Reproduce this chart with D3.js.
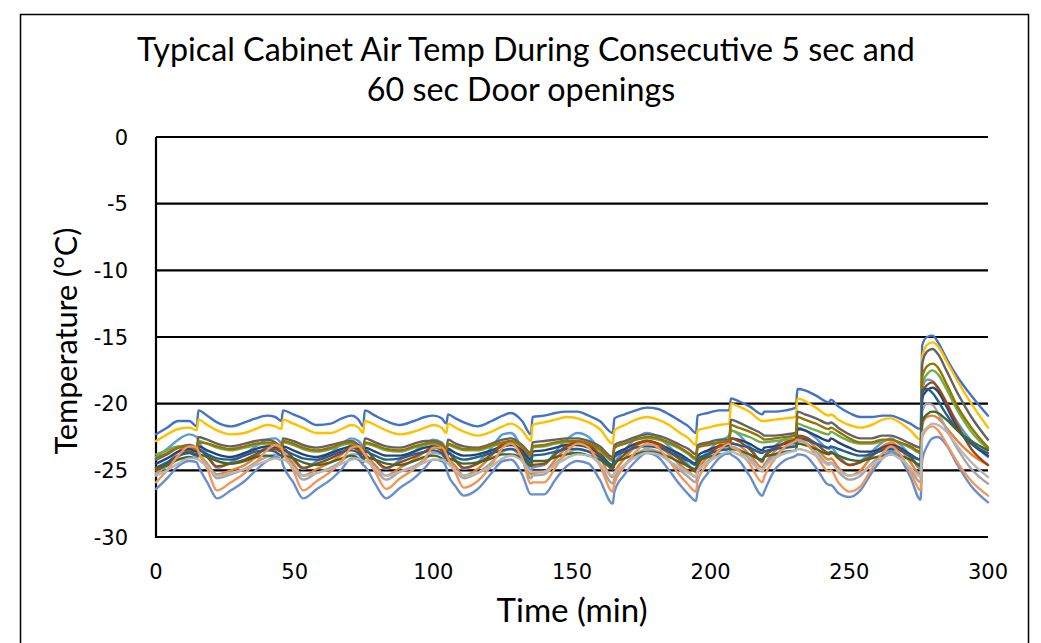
<!DOCTYPE html>
<html>
<head>
<meta charset="utf-8">
<script src="https://cdn.jsdelivr.net/npm/d3@7"></script>
<style>
  body { margin: 0; background: #fff; }
  svg  { display: block; }
</style>
</head>
<body>
<svg id="chart" width="1041" height="643"></svg>
<script>
// ═══════════════════════════════════════════
//  Cabinet air temperature, 5 s / 60 s door openings
//  15 probe traces, Excel default palette order
// ═══════════════════════════════════════════

const titleLines = ['Typical Cabinet Air Temp During Consecutive 5 sec and', '60 sec Door openings'];
const xTitle = 'Time (min)';
const yTitle = 'Temperature (°C)';
const xTicks = [0, 50, 100, 150, 200, 250, 300];
const yTicks = [0, -5, -10, -15, -20, -25, -30];

// sample times (min); pairs like 14.7 / 15.3 straddle a door opening
const timeMin = [
  0, 4, 8, 12, 14.7,
  15.3, 18.5, 22, 27, 32, 36, 40, 43, 45.2,
  45.8, 49.5, 53, 58, 63, 67, 70.5, 73, 74.7,
  75.3, 79, 83, 88, 93, 97, 100, 103, 104.7,
  105.3, 108, 111, 116, 121, 125, 128, 132, 135.2,
  135.8, 140, 144, 148, 152, 156, 160, 164.7,
  165.3, 169, 173, 177, 181, 185, 189, 192, 194.7,
  195.3, 199, 203, 206.7,  207.3, 210, 214, 218.7,
  219.3, 223, 227, 230.7,  231.3, 234, 238, 242.7,
  243.3, 246, 250, 254, 258, 262, 265, 268, 272, 275.7,
  276.3, 278, 280, 282, 285, 289, 294, 300
];

// ── Series (°C) ───────────────────────────
const blue = [
  -22.3, -21.8, -21.3, -21.3, -21.7,
  -20.5, -20.9, -21.4, -21.7, -21.4, -21.1, -20.9, -21.0, -21.3,
  -20.5, -20.8, -21.1, -21.6, -21.5, -21.1, -20.9, -21.2, -21.7,
  -20.5, -20.9, -21.3, -21.6, -21.3, -21.0, -20.9, -21.1, -21.5,
  -20.8, -21.1, -21.4, -21.7, -21.3, -20.9, -20.7, -21.3, -22.3,
  -21.0, -20.9, -20.7, -20.6, -20.6, -20.9, -21.3, -22.2,
  -21.1, -20.8, -20.5, -20.3, -20.4, -20.8, -21.3, -21.7, -22.2,
  -20.9, -20.7, -20.5, -20.5,  -19.6, -19.8, -20.2, -20.8,
  -20.6, -20.6, -20.5, -20.3,  -18.9, -19.0, -19.4, -19.9,
  -19.7, -20.2, -20.7, -21.0, -21.0, -20.9, -20.9, -21.1, -21.5, -21.9,
  -15.6, -15.0, -14.9, -15.4, -16.6, -18.0, -19.4, -20.9
];
const orange = [
  -25.3, -24.5, -23.6, -23.1, -23.3,
  -23.6, -24.5, -25.3, -25.0, -24.6, -24.0, -23.2, -23.0, -23.2,
  -23.5, -24.5, -25.4, -24.9, -24.4, -23.8, -23.1, -23.1, -23.5,
  -23.7, -24.6, -25.4, -24.8, -24.2, -23.6, -23.1, -23.2, -23.7,
  -24.0, -24.7, -25.4, -24.9, -23.9, -23.0, -22.9, -23.8, -25.3,
  -25.2, -25.1, -24.2, -23.3, -22.8, -23.0, -24.0, -25.5,
  -25.2, -24.1, -23.2, -22.8, -23.1, -23.8, -24.6, -25.1, -25.5,
  -25.0, -24.0, -23.1, -22.7,  -22.9, -23.1, -23.8, -24.8,
  -24.6, -23.6, -22.9, -22.6,  -22.5, -22.6, -23.3, -24.2,
  -24.1, -24.8, -25.4, -25.0, -24.0, -23.2, -22.9, -23.3, -24.4, -25.3,
  -21.6, -21.0, -20.9, -21.1, -21.8, -22.8, -23.8, -24.6
];
const gray = [
  -25.2, -24.7, -24.0, -23.5, -23.6,
  -23.8, -24.6, -25.6, -25.3, -24.9, -24.4, -24.0, -23.8, -23.9,
  -23.9, -24.8, -25.7, -25.2, -24.8, -24.3, -23.8, -23.8, -24.1,
  -24.0, -24.9, -25.7, -25.1, -24.7, -24.2, -23.7, -23.8, -24.2,
  -24.3, -25.0, -25.6, -25.2, -24.4, -23.6, -23.4, -24.2, -25.6,
  -25.4, -25.3, -24.5, -23.8, -23.4, -23.6, -24.5, -26.0,
  -25.6, -24.6, -23.8, -23.4, -23.6, -24.3, -25.0, -25.5, -25.9,
  -25.2, -24.3, -23.6, -23.2,  -23.2, -23.4, -24.1, -25.1,
  -24.8, -23.9, -23.3, -23.0,  -22.8, -22.9, -23.6, -24.5,
  -24.4, -25.1, -25.7, -25.4, -24.5, -23.8, -23.5, -23.9, -24.9, -25.9,
  -20.6, -20.0, -20.1, -20.7, -21.9, -23.4, -24.9, -26.0
];
const gold = [
  -22.8, -22.3, -21.9, -21.8, -22.0,
  -21.2, -21.6, -22.0, -22.3, -22.2, -21.9, -21.6, -21.7, -21.9,
  -21.2, -21.5, -21.8, -22.2, -22.2, -21.9, -21.6, -21.8, -22.2,
  -21.3, -21.6, -22.0, -22.3, -22.1, -21.8, -21.6, -21.8, -22.2,
  -21.5, -21.8, -22.1, -22.4, -22.1, -21.7, -21.5, -22.0, -22.8,
  -21.6, -21.4, -21.2, -21.0, -21.1, -21.4, -21.9, -23.0,
  -22.0, -21.6, -21.2, -21.0, -21.2, -21.6, -22.2, -22.6, -23.1,
  -22.0, -21.8, -21.6, -21.5,  -20.0, -20.2, -20.6, -21.3,
  -21.3, -21.2, -21.1, -21.0,  -19.6, -19.8, -20.3, -20.9,
  -20.8, -21.2, -21.6, -21.8, -21.6, -21.2, -21.1, -21.4, -22.0, -22.7,
  -16.5, -15.6, -15.4, -15.7, -16.8, -18.3, -20.0, -21.8
];
const lightBlue = [
  -24.0, -23.4, -22.7, -22.3, -22.5,
  -22.8, -23.8, -24.8, -24.4, -23.8, -23.2, -22.7, -22.6, -23.0,
  -23.2, -24.2, -24.9, -24.3, -23.7, -23.0, -22.6, -22.8, -23.2,
  -23.3, -24.2, -24.9, -24.2, -23.6, -23.0, -22.7, -22.9, -23.4,
  -23.5, -24.2, -24.9, -24.4, -23.3, -22.3, -22.2, -23.4, -25.0,
  -24.8, -24.6, -23.6, -22.7, -22.2, -22.5, -23.5, -24.9,
  -24.5, -23.5, -22.6, -22.2, -22.5, -23.2, -24.0, -24.6, -25.1,
  -24.6, -23.6, -22.8, -22.4,  -22.0, -22.3, -23.2, -24.4,
  -24.0, -23.2, -22.6, -22.3,  -21.8, -22.0, -22.6, -23.4,
  -23.3, -23.9, -24.6, -24.3, -23.6, -22.9, -22.6, -23.0, -23.9, -24.9,
  -18.9, -18.2, -18.3, -18.9, -20.0, -21.4, -22.8, -24.0
];
const green = [
  -23.8, -23.5, -23.2, -23.2, -23.4,
  -22.8, -23.0, -23.3, -23.5, -23.3, -23.1, -23.0, -23.1, -23.4,
  -22.9, -23.1, -23.4, -23.6, -23.4, -23.1, -23.0, -23.3, -23.7,
  -23.0, -23.2, -23.5, -23.6, -23.3, -23.1, -23.0, -23.2, -23.6,
  -23.1, -23.3, -23.5, -23.5, -23.2, -23.0, -22.9, -23.3, -24.0,
  -23.3, -23.2, -23.0, -22.9, -22.9, -23.1, -23.5, -24.3,
  -23.3, -23.0, -22.7, -22.6, -22.7, -23.0, -23.4, -23.8, -24.2,
  -23.2, -23.0, -22.9, -22.8,  -22.0, -22.2, -22.5, -22.9,
  -22.9, -22.8, -22.7, -22.6,  -21.5, -21.7, -22.0, -22.3,
  -22.1, -22.4, -22.8, -23.0, -23.0, -22.8, -22.7, -22.9, -23.3, -23.7,
  -18.5, -17.8, -17.5, -17.8, -18.9, -20.5, -22.1, -23.4
];
const darkBlue = [
  -24.5, -24.1, -23.6, -23.4, -23.6,
  -23.2, -23.5, -23.8, -24.0, -23.7, -23.4, -23.2, -23.3, -23.6,
  -23.2, -23.5, -23.8, -24.0, -23.7, -23.4, -23.2, -23.4, -23.8,
  -23.3, -23.6, -23.9, -23.9, -23.6, -23.3, -23.2, -23.4, -23.8,
  -23.4, -23.7, -23.9, -23.8, -23.5, -23.2, -23.1, -23.5, -24.2,
  -23.6, -23.5, -23.3, -23.1, -23.1, -23.3, -23.8, -24.6,
  -23.8, -23.4, -23.0, -22.8, -23.0, -23.4, -23.8, -24.2, -24.5,
  -23.9, -23.5, -23.2, -23.1,  -22.6, -22.7, -23.0, -23.5,
  -23.3, -23.2, -23.0, -22.9,  -21.9, -22.0, -22.4, -22.8,
  -22.6, -22.9, -23.3, -23.6, -23.6, -23.3, -23.1, -23.3, -23.8, -24.2,
  -19.6, -19.0, -18.8, -19.1, -20.2, -21.8, -23.0, -23.9
];
const darkOrange = [
  -25.0, -24.6, -23.9, -23.6, -23.8,
  -23.4, -24.0, -24.7, -24.5, -24.2, -23.8, -23.4, -23.4, -23.6,
  -23.4, -24.1, -24.8, -24.5, -24.1, -23.7, -23.3, -23.5, -23.8,
  -23.5, -24.2, -24.8, -24.4, -24.0, -23.6, -23.3, -23.5, -23.9,
  -23.7, -24.3, -24.8, -24.5, -23.8, -23.1, -23.0, -23.7, -24.7,
  -24.6, -24.5, -23.8, -23.2, -22.9, -23.1, -23.8, -24.9,
  -24.6, -23.8, -23.1, -22.8, -23.0, -23.6, -24.2, -24.7, -25.1,
  -24.6, -23.8, -23.2, -22.9,  -22.6, -22.8, -23.4, -24.3,
  -24.0, -23.4, -22.9, -22.7,  -22.4, -22.5, -23.0, -23.7,
  -23.6, -24.1, -24.6, -24.4, -23.9, -23.4, -23.2, -23.4, -24.0, -24.7,
  -19.2, -18.6, -18.4, -18.8, -19.9, -21.6, -23.4, -24.6
];
const darkGray = [
  -24.2, -23.8, -23.3, -23.1, -23.3,
  -22.5, -22.7, -23.0, -23.2, -23.0, -22.8, -22.7, -22.9, -23.3,
  -22.6, -22.8, -23.1, -23.3, -23.1, -22.9, -22.8, -23.1, -23.5,
  -22.6, -22.9, -23.2, -23.3, -23.0, -22.8, -22.8, -23.0, -23.4,
  -22.7, -23.0, -23.2, -23.3, -23.0, -22.7, -22.6, -23.1, -23.7,
  -22.9, -22.8, -22.7, -22.6, -22.6, -22.8, -23.2, -24.0,
  -23.1, -22.8, -22.5, -22.3, -22.4, -22.7, -23.1, -23.4, -23.8,
  -23.1, -22.9, -22.7, -22.7,  -21.2, -21.4, -21.8, -22.3,
  -22.4, -22.4, -22.3, -22.2,  -20.6, -20.8, -21.1, -21.5,
  -21.4, -21.8, -22.3, -22.6, -22.6, -22.4, -22.4, -22.6, -23.0, -23.3,
  -17.0, -16.1, -15.9, -16.3, -17.5, -19.2, -21.0, -22.7
];
const darkGold = [
  -24.1, -23.7, -23.3, -23.2, -23.4,
  -22.9, -23.0, -23.2, -23.4, -23.2, -23.0, -22.9, -23.0, -23.4,
  -22.8, -23.0, -23.3, -23.5, -23.3, -23.0, -22.9, -23.2, -23.6,
  -22.9, -23.1, -23.4, -23.5, -23.2, -23.0, -22.9, -23.1, -23.5,
  -23.0, -23.2, -23.4, -23.4, -23.1, -22.9, -22.8, -23.2, -23.9,
  -23.2, -23.1, -22.9, -22.8, -22.8, -23.0, -23.4, -24.2,
  -23.3, -23.0, -22.7, -22.5, -22.6, -22.9, -23.3, -23.7, -24.1,
  -23.3, -23.1, -22.9, -22.8,  -21.6, -21.8, -22.1, -22.6,
  -22.7, -22.6, -22.5, -22.4,  -21.0, -21.2, -21.5, -21.9,
  -21.8, -22.1, -22.6, -22.9, -22.9, -22.7, -22.7, -22.9, -23.2, -23.6,
  -18.0, -17.2, -17.0, -17.3, -18.5, -20.2, -21.8, -23.3
];
const steelBlue = [
  -24.8, -24.4, -23.9, -23.7, -23.9,
  -23.5, -23.8, -24.1, -24.2, -23.9, -23.6, -23.5, -23.6, -23.9,
  -23.5, -23.8, -24.1, -24.2, -23.9, -23.6, -23.5, -23.7, -24.1,
  -23.6, -23.9, -24.2, -24.1, -23.8, -23.6, -23.5, -23.7, -24.1,
  -23.7, -24.0, -24.2, -24.0, -23.7, -23.5, -23.4, -23.8, -24.4,
  -23.9, -23.8, -23.6, -23.4, -23.4, -23.6, -24.0, -24.7,
  -24.0, -23.6, -23.3, -23.2, -23.3, -23.6, -24.0, -24.3, -24.6,
  -24.1, -23.8, -23.5, -23.4,  -23.0, -23.1, -23.3, -23.7,
  -23.6, -23.4, -23.3, -23.2,  -22.6, -22.7, -23.0, -23.3,
  -23.2, -23.4, -23.7, -23.9, -23.8, -23.5, -23.4, -23.5, -23.9, -24.2,
  -19.0, -18.9, -19.2, -19.8, -20.8, -22.0, -23.0, -23.7
];
const darkGreen = [
  -24.8, -24.6, -24.2, -24.0, -24.1,
  -23.8, -24.0, -24.3, -24.5, -24.3, -24.0, -23.9, -24.0, -24.2,
  -23.9, -24.1, -24.4, -24.6, -24.4, -24.1, -23.9, -24.1, -24.4,
  -24.0, -24.2, -24.5, -24.6, -24.3, -24.0, -23.9, -24.1, -24.4,
  -24.1, -24.3, -24.5, -24.4, -24.1, -23.8, -23.8, -24.1, -24.6,
  -24.3, -24.3, -24.0, -23.8, -23.7, -23.9, -24.2, -24.8,
  -24.4, -24.1, -23.8, -23.6, -23.7, -24.0, -24.4, -24.7, -24.9,
  -24.3, -24.0, -23.8, -23.7,  -23.4, -23.5, -23.8, -24.2,
  -24.0, -23.8, -23.6, -23.5,  -23.0, -23.1, -23.4, -23.8,
  -23.7, -23.9, -24.2, -24.3, -24.1, -23.9, -23.8, -23.9, -24.2, -24.6,
  -21.3, -20.8, -20.6, -20.7, -21.2, -22.0, -22.8, -23.5
];
const paleBlue = [
  -26.4, -25.6, -24.7, -24.3, -24.4,
  -24.7, -25.9, -27.1, -26.5, -25.8, -25.0, -24.3, -24.0, -24.2,
  -24.6, -25.9, -27.1, -26.4, -25.7, -24.9, -24.1, -24.2, -24.6,
  -24.7, -26.0, -27.1, -26.3, -25.6, -24.8, -24.2, -24.3, -24.8,
  -25.3, -26.2, -26.9, -26.4, -25.2, -24.3, -24.2, -25.3, -26.8,
  -26.8, -26.8, -25.7, -24.7, -24.3, -24.5, -25.7, -27.5,
  -26.6, -25.3, -24.3, -23.7, -24.0, -25.0, -26.1, -26.8, -27.3,
  -26.6, -25.2, -24.1, -23.7,  -23.8, -24.2, -25.4, -26.9,
  -26.6, -25.0, -24.2, -23.9,  -23.8, -23.9, -24.8, -26.1,
  -26.1, -26.7, -27.0, -26.5, -25.2, -24.1, -23.6, -24.0, -25.5, -27.2,
  -24.2, -23.2, -22.6, -22.5, -23.1, -24.6, -26.2, -27.4
];
const paleOrange = [
  -25.9, -25.0, -23.9, -23.2, -23.3,
  -23.6, -24.9, -26.5, -25.9, -25.2, -24.4, -23.5, -23.1, -23.3,
  -23.6, -25.0, -26.5, -25.8, -25.1, -24.3, -23.3, -23.2, -23.6,
  -23.8, -25.1, -26.4, -25.6, -24.9, -24.1, -23.3, -23.3, -23.8,
  -24.1, -25.2, -26.3, -25.8, -24.6, -23.3, -23.0, -24.1, -26.0,
  -25.9, -25.9, -24.8, -23.6, -23.0, -23.3, -24.6, -26.6,
  -26.0, -24.7, -23.6, -23.0, -23.3, -24.3, -25.4, -26.1, -26.6,
  -25.8, -24.5, -23.5, -23.0,  -23.2, -23.5, -24.5, -25.9,
  -25.5, -24.2, -23.2, -22.8,  -22.7, -22.9, -23.9, -25.1,
  -25.0, -25.9, -26.6, -26.2, -24.9, -23.7, -23.2, -23.7, -25.1, -26.5,
  -22.5, -21.9, -21.7, -22.0, -23.0, -24.4, -25.8, -26.9
];
const paleGray = [
  -25.4, -25.0, -24.5, -24.1, -24.1,
  -24.2, -24.7, -25.4, -25.2, -24.9, -24.6, -24.3, -24.1, -24.2,
  -24.2, -24.8, -25.4, -25.2, -24.9, -24.5, -24.2, -24.1, -24.3,
  -24.3, -24.9, -25.4, -25.1, -24.8, -24.4, -24.2, -24.2, -24.4,
  -24.5, -25.0, -25.4, -25.2, -24.7, -24.1, -23.9, -24.3, -25.1,
  -25.1, -25.1, -24.6, -24.1, -23.8, -23.9, -24.5, -25.4,
  -25.2, -24.6, -24.0, -23.7, -23.8, -24.3, -24.8, -25.2, -25.5,
  -25.0, -24.4, -23.9, -23.6,  -23.6, -23.8, -24.3, -25.0,
  -24.8, -24.1, -23.7, -23.5,  -23.4, -23.5, -23.9, -24.6,
  -24.5, -25.0, -25.4, -25.2, -24.6, -24.1, -23.8, -24.1, -24.8, -25.5,
  -22.2, -21.8, -21.5, -21.6, -22.1, -23.2, -24.4, -25.5
];

const seriesValues = [blue, orange, gray, gold, lightBlue, green, darkBlue, darkOrange,
                      darkGray, darkGold, steelBlue, darkGreen, paleBlue, paleOrange, paleGray];
const seriesColors = ['#4472C4', '#ED7D31', '#A5A5A5', '#FFC000', '#5B9BD5', '#70AD47', '#264478', '#9E480E',
                      '#636363', '#997300', '#255E91', '#43682B', '#698ED0', '#F1975A', '#B7B7B7'];

// ── Layout ────────────────────────────────
const svg = d3.select('#chart');
const W = 1041, H = 643;
const plot = { left: 156, right: 988, top: 137, bottom: 537 };

const x = d3.scaleLinear().domain([0, 300]).range([plot.left, plot.right]);
const y = d3.scaleLinear().domain([-30, 0]).range([plot.bottom, plot.top]);

svg.append('rect').attr('width', W).attr('height', H).attr('fill', '#fff');
svg.append('rect')
  .attr('x', 20.5).attr('y', 14.5)
  .attr('width', 1008).attr('height', 660)
  .attr('fill', 'none').attr('stroke', '#000').attr('stroke-width', 1.5);

// scale a text's font so it spans the measured width
function fitWidth(sel, w) {
  const fs = parseFloat(sel.attr('font-size'));
  const len = sel.node().getComputedTextLength();
  if (len > 0) sel.attr('font-size', (fs * w / len).toFixed(2));
  return parseFloat(sel.attr('font-size'));
}

// ── Title ─────────────────────────────────
const titleFont = 'Lato, "Open Sans", sans-serif';
const t1 = svg.append('text').attr('x', 526).attr('y', 61)
  .attr('text-anchor', 'middle').attr('font-family', titleFont).attr('font-size', 28)
  .attr('fill', '#000').text(titleLines[0]);
const tfs = fitWidth(t1, 778);
svg.append('text').attr('x', 521).attr('y', 101)
  .attr('text-anchor', 'middle').attr('font-family', titleFont).attr('font-size', tfs)
  .attr('fill', '#000').text(titleLines[1]);

// ── Grid + axes ───────────────────────────
const grid = svg.append('g');
grid.selectAll('line').data(yTicks).join('line')
  .attr('x1', plot.left).attr('x2', plot.right)
  .attr('y1', d => y(d)).attr('y2', d => y(d))
  .attr('stroke', '#000').attr('stroke-width', 2.2);
grid.append('line')
  .attr('x1', plot.left).attr('x2', plot.left)
  .attr('y1', plot.top).attr('y2', plot.bottom + 1)
  .attr('stroke', '#000').attr('stroke-width', 2.2);

const tickFont = '"DejaVu Sans", sans-serif';
svg.append('g').selectAll('text').data(yTicks).join('text')
  .attr('x', 128).attr('y', d => y(d)).attr('dy', '0.36em')
  .attr('text-anchor', 'end').attr('font-family', tickFont).attr('font-size', 21)
  .attr('fill', '#000').text(d => d);
svg.append('g').selectAll('text').data(xTicks).join('text')
  .attr('x', d => x(d)).attr('y', 579)
  .attr('text-anchor', 'middle').attr('font-family', tickFont).attr('font-size', 21)
  .attr('fill', '#000').text(d => d);

// axis titles
const xt = svg.append('text').attr('x', 572).attr('y', 622)
  .attr('text-anchor', 'middle').attr('font-family', titleFont).attr('font-size', 26)
  .attr('fill', '#000').text(xTitle);
fitWidth(xt, 151);
const yt = svg.append('text').attr('transform', 'translate(77,341) rotate(-90)')
  .attr('text-anchor', 'middle').attr('font-family', titleFont).attr('font-size', 26)
  .attr('fill', '#000').text(yTitle);
fitWidth(yt, 227);

// ── Lines ─────────────────────────────────
const line = d3.line()
  .x((d, i) => x(timeMin[i]))
  .y(d => y(d))
  .curve(d3.curveMonotoneX);

svg.append('g').selectAll('path').data(seriesValues).join('path')
  .attr('d', line)
  .attr('fill', 'none')
  .attr('stroke', (d, i) => seriesColors[i])
  .attr('stroke-width', 2.4)
  .attr('stroke-linejoin', 'round')
  .attr('stroke-linecap', 'round');
</script>
</body>
</html>
